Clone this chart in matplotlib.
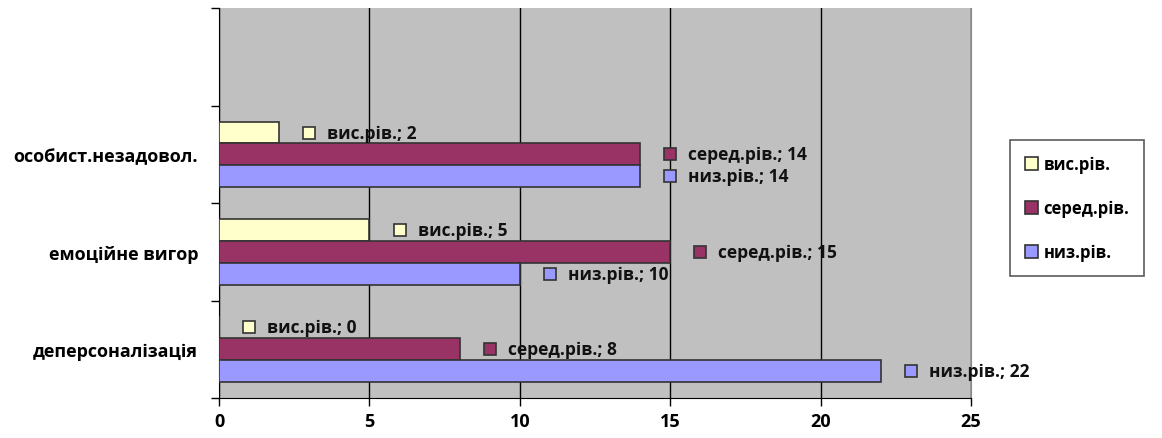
import numpy as np
import matplotlib.pyplot as plt
from matplotlib.patches import Patch

plt.rcParams['font.family'] = ['Open Sans', 'DejaVu Sans']

categories = ['деперсоналізація', 'емоційне вигор', 'особист.незадовол.']
series = ['вис.рів.', 'серед.рів.', 'низ.рів.']
vys = [0, 5, 2]
sered = [8, 15, 14]
nyz = [22, 10, 14]
colors = ['#FFFFCC', '#993366', '#9999FF']

fig = plt.figure(figsize=(11.62, 4.39), dpi=100)
ax = fig.add_axes([0.1885, 0.0912, 0.6471, 0.8876])
ax.set_facecolor('#C0C0C0')

y = np.arange(len(categories))
h = 0.225
offsets = [h, 0, -h]
for vals, name, col, off in zip([vys, sered, nyz], series, colors, offsets):
    ax.barh(y + off, vals, height=h, color=col, edgecolor='#333333', linewidth=1.2, zorder=3)
    for yi, v in zip(y, vals):
        ax.plot(v + 1, yi + off, marker='s', markersize=8.5, color=col,
                markeredgecolor='#333333', markeredgewidth=1.2, zorder=4)
        ax.annotate(f'{name}; {v}', (v + 1, yi + off), xytext=(13, 0),
                    textcoords='offset points', va='center', ha='left',
                    fontsize=12.5, fontweight='bold', color='#111111', zorder=5)

ax.set_xlim(0, 25)
ax.set_ylim(-0.5, 3.5)
ax.set_xticks([0, 5, 10, 15, 20, 25])
ax.set_xticklabels(['0', '5', '10', '15', '20', '25'], fontsize=13, fontweight='bold')
ax.set_yticks(y)
ax.set_yticklabels(categories, fontsize=13, fontweight='bold')
ax.set_yticks(np.arange(-0.5, 4, 1), minor=True)
ax.tick_params(axis='y', which='major', length=0, pad=15)
ax.tick_params(axis='y', which='minor', length=6, width=1, color='black')
ax.tick_params(axis='x', length=6, width=1, pad=4)
ax.grid(axis='x', color='black', linewidth=1, zorder=1)
ax.spines['top'].set_visible(False)
ax.spines['right'].set_color('#888888')
ax.spines['left'].set_color('black')
ax.spines['bottom'].set_color('black')

handles = [Patch(facecolor=c, edgecolor='#333333', linewidth=1.2) for c in colors]
leg = fig.legend(handles, series, loc='upper left', bbox_to_anchor=(0.862, 0.697),
                 frameon=True, fancybox=False, edgecolor='#333333',
                 handlelength=0.8, handleheight=0.8, handletextpad=0.3,
                 labelspacing=1.55, borderpad=0.9, prop={'weight': 'bold', 'size': 12})
leg.get_frame().set_linewidth(1.2)

fig.savefig('out.png', dpi=100, facecolor='white')
